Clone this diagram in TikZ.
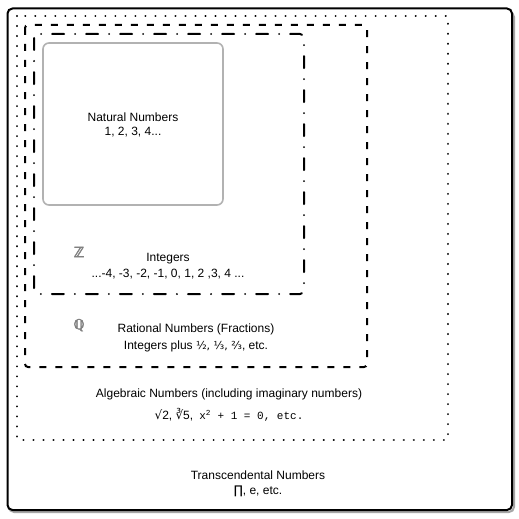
\documentclass[tikz,border=0pt]{standalone}
\usepackage{fontspec}
\setmainfont{Liberation Sans}
\newfontfamily\dv{DejaVu Sans}
\newfontfamily\bbfont[FakeBold=2.5]{DejaVu Sans}
\newfontfamily\mono{Liberation Mono}
\begin{document}
\begin{tikzpicture}[x=1pt,y=-1pt,
  lbl/.style={inner sep=0pt,anchor=center,font=\fontsize{12}{14}\selectfont},
  setsym/.style={inner sep=0pt,anchor=center,text=black!50,font=\bbfont\fontsize{14}{14}\selectfont},
  outerbox/.style={draw=black,line width=2pt,rounded corners=5pt},
  dotbox/.style={draw=black,line width=2.2pt,line cap=round,dash pattern=on 0.01pt off 10pt},
  dashbox/.style={draw=black,line width=2pt,dash pattern=on 7pt off 9pt,rounded corners=3pt},
  dashdotbox/.style={draw=black,line width=2pt,dash pattern=on 12pt off 11pt on 0.01pt off 11pt,line cap=round,rounded corners=4pt},
  natbox/.style={draw=black!30,line width=1.6pt,rounded corners=6pt}
]
\useasboundingbox (0,0) rectangle (519,519);
\fill[white] (0,0) rectangle (519,519);
% shadow of outer box
\draw[black!35,line width=2pt,rounded corners=5pt] (9,12) rectangle (514,512);
\draw[outerbox,fill=white] (7.5,8.5) rectangle (512,510);
\draw[dotbox] (17,16) rectangle (448,440);
\draw[dashbox] (25,25) rectangle (367,367);
\draw[dashdotbox] (34,34) rectangle (304,294);
\draw[natbox] (43,43) rectangle (223,205);

\node[lbl] (nat1) at (133,117) {Natural Numbers};
\node[lbl] (nat2) at (133,132) {1, 2, 3, 4...};

\node[setsym] (zz) at (79,252) {ℤ};
\node[lbl] (int1) at (168,259) {Integers};
\node[lbl] (int2) at (168,274) {...-4, -3, -2, -1, 0, 1, 2 ,3, 4 ...};

\node[setsym] (qq) at (79,325) {ℚ};
\node[lbl] (rat1) at (196,329) {Rational Numbers (Fractions)};
\node[lbl] (rat2) at (196,346) {Integers plus {\dv\fontsize{11}{12}\selectfont ½, ⅓, ⅔}, etc.};

\node[lbl] (alg1) at (229,394) {Algebraic Numbers (including imaginary numbers)};
\node[lbl] (alg2) at (229,415) {{\dv √}2, {\dv ∛}5,\enspace{\mono\fontsize{11}{12}\selectfont x\textsuperscript{2} + 1 = 0,\ etc.}};

\node[lbl] (tr1) at (258,475) {Transcendental Numbers};
\node[lbl] (tr2) at (258,491) {{\dv ∏}, e, etc.};
\end{tikzpicture}
\end{document}
